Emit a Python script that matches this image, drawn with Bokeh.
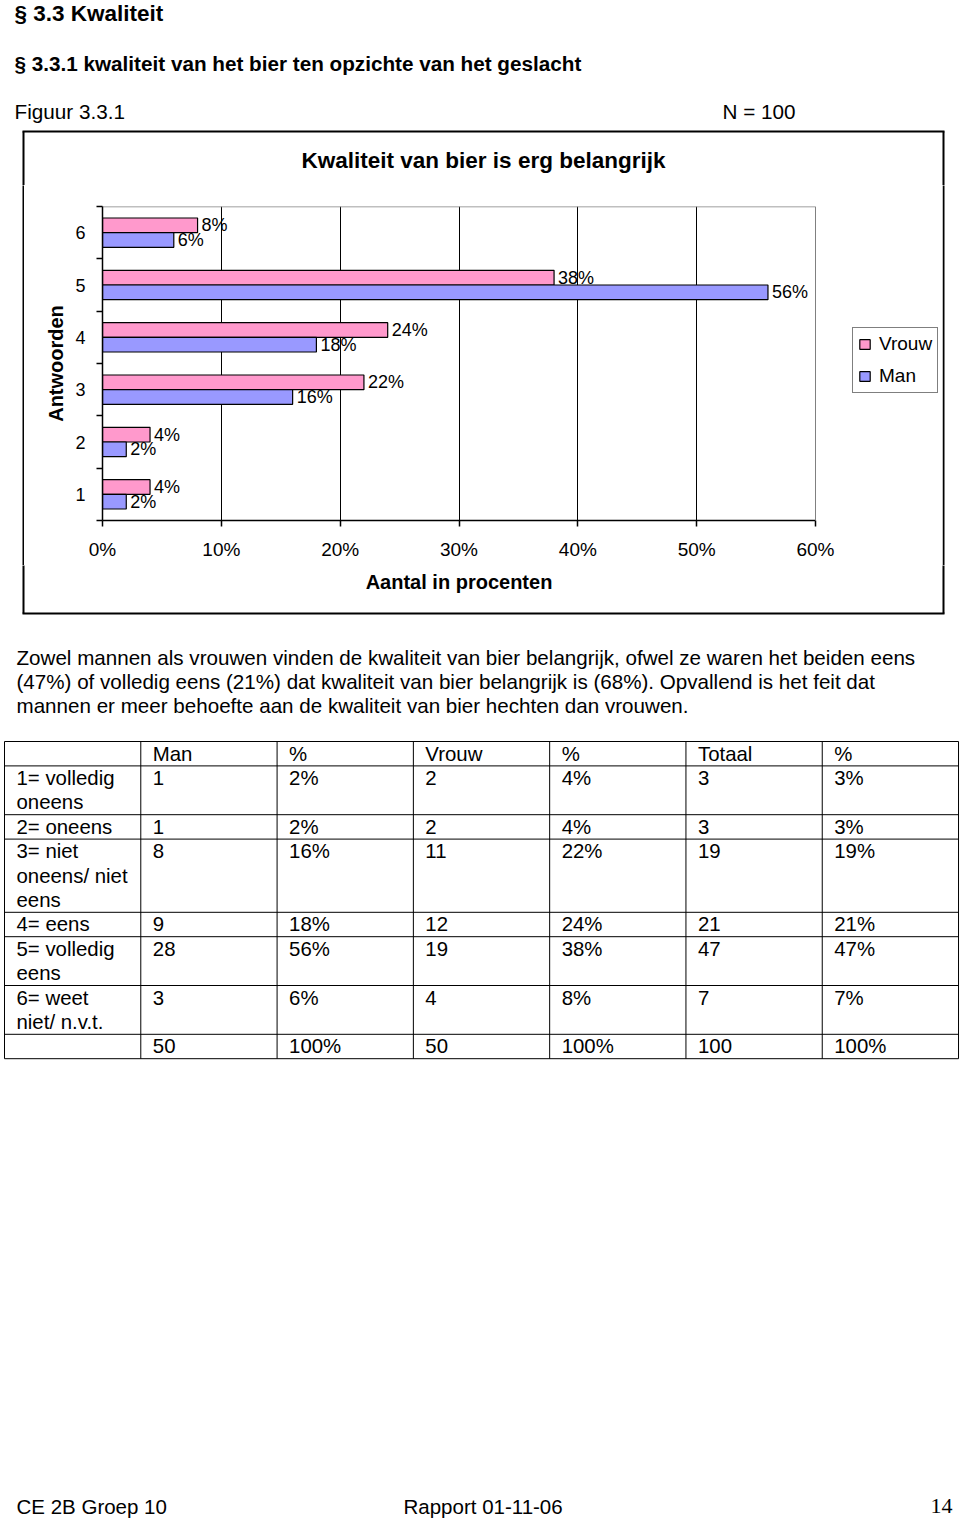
from bokeh.plotting import figure
from bokeh.models import (Range1d, FixedTicker, PrintfTickFormatter, Legend, LegendItem,
                          ColumnDataSource, Span)
from bokeh.layouts import column, row
from bokeh.transform import dodge
from bokeh.core.properties import value
from bokeh.embed import file_html
from bokeh.resources import INLINE

FONT = "Liberation Sans"

# ---------------- data ----------------
answers = [1, 2, 3, 4, 5, 6]
man_pct = [2, 2, 16, 18, 56, 6]
vrouw_pct = [4, 4, 22, 24, 38, 8]
x_ticks = [0, 10, 20, 30, 40, 50, 60]

chart_title = "Kwaliteit van bier is erg belangrijk"
x_title = "Aantal in procenten"
y_title = "Antwoorden"

table_header = ["", "Man", "%", "Vrouw", "%", "Totaal", "%"]
row_labels = ["1= volledig\noneens", "2= oneens", "3= niet\noneens/ niet\neens",
              "4= eens", "5= volledig\neens", "6= weet\nniet/ n.v.t.", ""]
man_n = ["1", "1", "8", "9", "28", "3", "50"]
man_p = ["2%", "2%", "16%", "18%", "56%", "6%", "100%"]
vrouw_n = ["2", "2", "11", "12", "19", "4", "50"]
vrouw_p = ["4%", "4%", "22%", "24%", "38%", "8%", "100%"]
totaal_n = ["3", "3", "19", "21", "47", "7", "100"]
totaal_p = ["3%", "3%", "19%", "21%", "47%", "7%", "100%"]

paragraph = [
    "Zowel mannen als vrouwen vinden de kwaliteit van bier belangrijk, ofwel ze waren het beiden eens",
    "(47%) of volledig eens (21%) dat kwaliteit van bier belangrijk is (68%). Opvallend is het feit dat",
    "mannen er meer behoefte aan de kwaliteit van bier hechten dan vrouwen.",
]

# page geometry (pixels)
BOX_L, BOX_R, BOX_T, BOX_B = 23, 943, 131, 613
TOP_H = 185          # top strip 0..185
MID_H = 380          # chart row 185..565
CH_X0, CH_X1 = 24, 942
PLOT_L, PLOT_R, PLOT_T, PLOT_B = 102, 815, 206, 520   # plot area (0%..60%)


def page_fig(x0, x1, y0, y1):
    f = figure(width=x1 - x0, height=y1 - y0, x_range=Range1d(x0, x1),
               y_range=Range1d(y1, y0), output_backend="svg",
               toolbar_location=None, min_border=0, frame_align=False)
    f.axis.visible = False
    f.grid.visible = False
    f.outline_line_color = None
    f.background_fill_color = "white"
    f.border_fill_color = "white"
    return f


def put_text(f, xs, ys, texts, size="20.5px", style="normal", font=FONT, align="left"):
    f.text(x=xs, y=ys, text=texts, text_font=value(font), text_font_size=value(size),
           text_font_style=style, text_baseline="middle", text_align=align, text_color="black")


def box_lines(f, y0, y1):
    f.segment(x0=[BOX_L, BOX_R], x1=[BOX_L, BOX_R], y0=[y0, y0], y1=[y1, y1],
              line_color="black", line_width=2)


# ---------------- top part of the page ----------------
top = page_fig(0, 960, 0, TOP_H)
put_text(top, [14], [13], ["§ 3.3 Kwaliteit"], size="22.5px", style="bold")
put_text(top, [14], [63], ["§ 3.3.1 kwaliteit van het bier ten opzichte van het geslacht"],
         size="20.7px", style="bold")
put_text(top, [14, 722], [111, 111], ["Figuur 3.3.1", "N = 100"], size="20.7px")
top.segment(x0=[BOX_L - 1], x1=[BOX_R + 1], y0=[BOX_T], y1=[BOX_T], line_color="black", line_width=2)
box_lines(top, BOX_T, TOP_H + 1)
put_text(top, [(BOX_L + BOX_R) / 2], [160], [chart_title], size="22.5px", style="bold", align="center")

# ---------------- chart ----------------
src = ColumnDataSource(dict(
    cat=answers, man=man_pct, vrouw=vrouw_pct,
    man_lbl=[f"{v}%" for v in man_pct], vrouw_lbl=[f"{v}%" for v in vrouw_pct]))

x_max = x_ticks[-1]
# the frame is extended to the right so that the legend sits inside it
x_end = x_max * (CH_X1 - PLOT_L) / (PLOT_R - PLOT_L)

p = figure(width=CH_X1 - CH_X0, height=MID_H, x_range=Range1d(0, x_end),
           y_range=Range1d(answers[0] - 0.5, answers[-1] + 0.5),
           output_backend="svg", toolbar_location=None, frame_align=False,
           min_border_left=PLOT_L - CH_X0, min_border_right=0,
           min_border_top=PLOT_T - TOP_H, min_border_bottom=TOP_H + MID_H - PLOT_B)
p.background_fill_color = "white"
p.border_fill_color = "white"
p.outline_line_color = None

# grey plot-area border (top and right)
p.add_layout(Span(location=x_max, dimension="height", line_color="#808080", line_width=1))
p.segment(x0=[0], x1=[x_max], y0=[answers[-1] + 0.5], y1=[answers[-1] + 0.5],
          line_color="#808080", line_width=1.5)

p.xgrid.ticker = FixedTicker(ticks=x_ticks[1:-1])
p.xgrid.grid_line_color = "black"
p.xgrid.grid_line_width = 1
p.ygrid.grid_line_color = None

xa = p.xaxis[0]
xa.bounds = (0, x_max)
xa.ticker = FixedTicker(ticks=x_ticks)
xa.formatter = PrintfTickFormatter(format="%d%%")
xa.major_tick_out = 6
xa.major_tick_in = 0
xa.minor_tick_line_color = None
xa.axis_line_color = "black"
xa.axis_line_width = 1.5
xa.major_tick_line_color = "black"
xa.major_tick_line_width = 1.5
xa.major_label_standoff = 12
xa.major_label_text_font = FONT
xa.major_label_text_font_size = "19px"
xa.major_label_text_color = "black"

ya = p.yaxis[0]
ya.ticker = FixedTicker(ticks=answers, minor_ticks=[a - 0.5 for a in answers] + [answers[-1] + 0.5])
ya.major_tick_line_color = None
ya.major_tick_out = 0
ya.major_tick_in = 0
ya.minor_tick_out = 6
ya.minor_tick_in = 0
ya.minor_tick_line_color = "black"
ya.minor_tick_line_width = 1.5
ya.axis_line_color = "black"
ya.axis_line_width = 1.5
ya.major_label_standoff = 11
ya.major_label_text_font = FONT
ya.major_label_text_font_size = "18px"
ya.major_label_text_color = "black"
ya.axis_label = y_title
ya.axis_label_text_font = FONT
ya.axis_label_text_font_size = "20px"
ya.axis_label_text_font_style = "bold"
ya.axis_label_text_color = "black"
ya.axis_label_standoff = 5

off = 0.14
r_v = p.hbar(y=dodge("cat", off, range=p.y_range), left=0, right="vrouw", height=0.28,
             source=src, fill_color="#FF99CC", line_color="black", line_width=1.2)
r_m = p.hbar(y=dodge("cat", -off, range=p.y_range), left=0, right="man", height=0.28,
             source=src, fill_color="#9999FF", line_color="black", line_width=1.2)
p.text(x="vrouw", y=dodge("cat", off, range=p.y_range), text="vrouw_lbl", source=src,
       x_offset=4, text_baseline="middle", text_align="left", text_font=value(FONT),
       text_font_size=value("18px"), text_color="black")
p.text(x="man", y=dodge("cat", -off, range=p.y_range), text="man_lbl", source=src,
       x_offset=4, text_baseline="middle", text_align="left", text_font=value(FONT),
       text_font_size=value("18px"), text_color="black")

legend = Legend(items=[LegendItem(label="Vrouw", renderers=[r_v]),
                       LegendItem(label="Man", renderers=[r_m])],
                location=(852 - PLOT_L, PLOT_B - 393), orientation="vertical",
                border_line_color="black", border_line_width=1.5,
                background_fill_color="white", background_fill_alpha=1,
                label_text_font=FONT, label_text_font_size="19px", label_text_color="black",
                glyph_width=13, glyph_height=12, padding=5, spacing=10,
                label_standoff=8, margin=0)
p.add_layout(legend)

left_strip = page_fig(0, CH_X0, TOP_H, TOP_H + MID_H)
box_lines(left_strip, TOP_H - 1, TOP_H + MID_H + 1)
right_strip = page_fig(CH_X1, 960, TOP_H, TOP_H + MID_H)
box_lines(right_strip, TOP_H - 1, TOP_H + MID_H + 1)

# ---------------- bottom part of the page ----------------
B0 = TOP_H + MID_H
bot = page_fig(0, 960, B0, 1519)
box_lines(bot, B0 - 1, BOX_B)
bot.segment(x0=[BOX_L - 1], x1=[BOX_R + 1], y0=[BOX_B], y1=[BOX_B], line_color="black", line_width=2)
# x-axis title, centred under the 0%..60% plot area
put_text(bot, [(PLOT_L + PLOT_R) / 2], [581], [x_title], size="20px", style="bold", align="center")

put_text(bot, [16] * len(paragraph), [657 + 24 * i for i in range(len(paragraph))], paragraph,
         size="20.6px")

# table
col_x = [4 + 136.29 * i for i in range(8)]
line_h = 24.4
table_top = 741
cells = [table_header] + [
    [row_labels[i], man_n[i], man_p[i], vrouw_n[i], vrouw_p[i], totaal_n[i], totaal_p[i]]
    for i in range(len(row_labels))]
row_y = [table_top]
for r in cells:
    n = max(len(c.split("\n")) for c in r)
    row_y.append(row_y[-1] + n * line_h)

tx, ty, tt = [], [], []
for ri, r in enumerate(cells):
    for ci, c in enumerate(r):
        for li, ln in enumerate(c.split("\n")):
            if ln:
                tx.append(col_x[ci] + 12)
                ty.append(row_y[ri] + 12 + li * line_h)
                tt.append(ln)
put_text(bot, tx, ty, tt, size="20.4px")

bot.segment(x0=[col_x[0]] * len(row_y), x1=[col_x[-1]] * len(row_y), y0=row_y, y1=row_y,
            line_color="black", line_width=1)
bot.segment(x0=col_x, x1=col_x, y0=[row_y[0]] * len(col_x), y1=[row_y[-1]] * len(col_x),
            line_color="black", line_width=1)

# footer
put_text(bot, [16, 403], [1506, 1506], ["CE 2B Groep 10", "Rapport 01-11-06"])
put_text(bot, [952], [1505], ["14"], size="22px", font="Liberation Serif", align="right")

layout = column(top, row(left_strip, p, right_strip), bot)

with open("out.html", "w") as fh:
    fh.write(file_html(layout, INLINE))
